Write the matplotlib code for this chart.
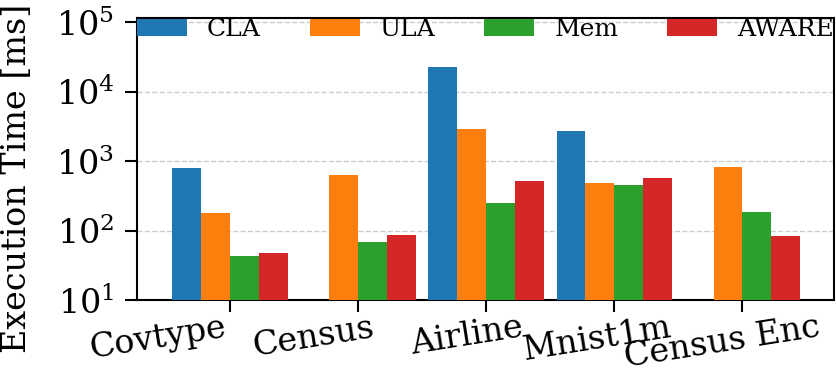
import numpy as np
import matplotlib
matplotlib.use("Agg")
import matplotlib.pyplot as plt
import matplotlib.transforms as mtransforms

plt.rcParams['font.family'] = ['DejaVu Serif']
plt.rcParams['mathtext.fontset'] = 'dejavuserif'

datasets = ["Covtype", "Census", "Airline", "Mnist1m", "Census Enc"]
series = ["CLA", "ULA", "Mem", "AWARE"]
cla = [790, np.nan, 22700, 2720, np.nan]
ula = [177, 632, 2910, 485, 824]
mem = [43, 68, 250, 454, 185]
aware = [47, 85, 519, 573, 84]
colors = ["#1f77b4", "#ff7f0e", "#2ca02c", "#d62728"]

fig = plt.figure(figsize=(8.36, 3.71), dpi=100)
ax = fig.add_axes([0.1639, 0.1914, 0.8337, 0.7593])

x = np.arange(len(datasets))
width = 0.225
for i, (name, vals) in enumerate(zip(series, [cla, ula, mem, aware])):
    ax.bar(x + (i - 1.5) * width, vals, width, label=name, color=colors[i], zorder=3)

ax.set_yscale('log')
ax.set_ylim(10, 10 ** 5.058)
ax.set_xlim(-0.725, 4.715)
ax.minorticks_off()
ax.set_yticks([1e1, 1e2, 1e3, 1e4, 1e5])
ax.yaxis.grid(True, linestyle='--', color='#cccccc', linewidth=1.0, zorder=0)
ax.set_axisbelow(True)

ax.set_ylabel("Execution Time [ms]", fontsize=24)
ax.yaxis.set_label_coords(-0.149, 0.43)
ax.tick_params(axis='both', labelsize=24, length=8.5, width=1.5)
ax.tick_params(axis='y', pad=8)
ax.tick_params(axis='x', pad=0)
for s in ax.spines.values():
    s.set_linewidth(1.5)

ax.set_xticks(x)
ax.set_xticklabels(datasets, rotation=9, ha='right')
# each label slides a little further right along the axis
for i, lab in enumerate(ax.get_xticklabels()):
    shift = (-2 + 20.5 * i) / 100.0
    lab.set_transform(lab.get_transform() +
                      mtransforms.ScaledTranslation(shift, 0, fig.dpi_scale_trans))

ax.legend(loc='upper left', bbox_to_anchor=(0, 1, 1, 0), mode='expand', ncol=4,
          frameon=False, fontsize=18, borderpad=0, borderaxespad=0)

fig.savefig("out.png", dpi=100)
